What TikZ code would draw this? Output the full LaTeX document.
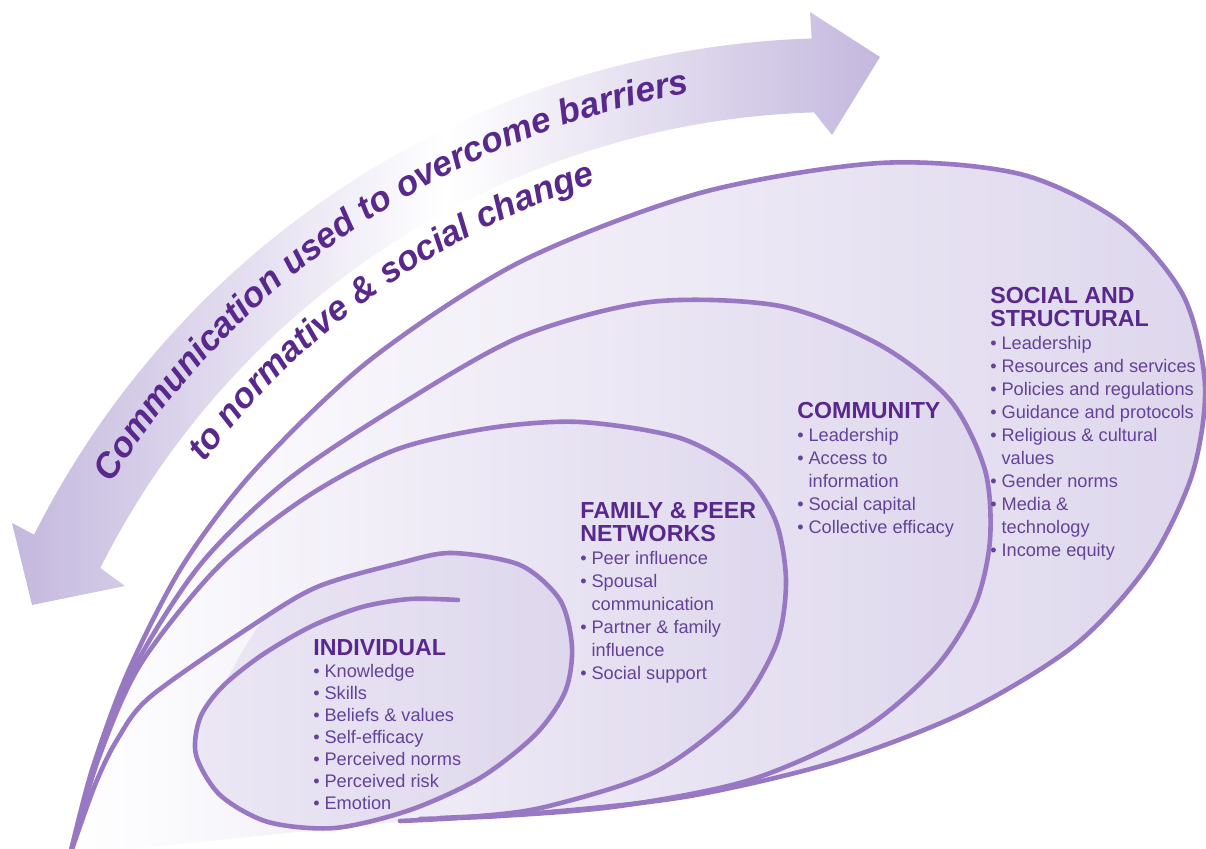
\documentclass[tikz,border=0pt]{standalone}
\usepackage{fontspec}
\setmainfont{Liberation Sans}
\usetikzlibrary{decorations.text}
\definecolor{linec}{RGB}{152,120,195}
\definecolor{loopc}{RGB}{222,215,237}
\definecolor{bandc}{RGB}{196,184,222}
\definecolor{headc}{RGB}{88,40,140}
\definecolor{bodyc}{RGB}{100,66,152}
\newcommand{\hd}[1]{{\fontsize{11.6}{11.5}\selectfont\bfseries\color{headc}#1}}
\newcommand{\itm}{\makebox[5.6pt][l]{\textbullet}}
\newcommand{\cnt}{\hspace*{5.6pt}}
\newcommand{\arcfont}{\fontsize{17.6}{20}\selectfont\bfseries\itshape}
\newcommand{\socialloop}{plot[smooth] coordinates {(70,855) (92,770) (128,672) (183,565) (255,470) (370,360) (520,262) (700,193) (880,163) (1020,174) (1120,222) (1183,295) (1205,385) (1192,475) (1148,565) (1075,645) (965,712) (835,762) (690,796) (550,812) (440,818)}}
\newcommand{\communityloop}{plot[smooth] coordinates {(70,855) (95,765) (134,668) (200,565) (285,482) (395,408) (520,337) (650,302) (780,306) (880,345) (950,400) (985,470) (990,540) (975,605) (935,668) (862,730) (750,780) (620,806) (500,816) (420,819)}}
\newcommand{\familyloop}{plot[smooth] coordinates {(70,855) (98,760) (140,665) (218,567) (305,498) (395,450) (490,428) (580,422) (680,438) (745,475) (776,522) (786,582) (776,645) (735,712) (655,772) (545,807) (470,817) (400,821)}}
\newcommand{\individualloop}{plot[smooth] coordinates {(70,855) (95,785) (117,740) (150,697) (250,627) (317,587) (400,563) (452,553) (520,565) (560,600) (572,647) (565,692) (535,735) (480,778) (410,810) (335,828) (268,822) (220,795) (196,755) (200,718) (222,687) (262,655) (312,626) (362,607) (410,599) (458,600)}}
\newcommand{\individualfill}{plot[smooth cycle] coordinates {(317,587) (400,563) (452,553) (520,565) (560,600) (572,647) (565,692) (535,735) (480,778) (410,810) (335,828) (268,822) (220,795) (196,755) (200,718) (222,687) (265,618)}}
\tikzset{
  loopline/.style={draw=linec, line width=2.3pt, line cap=round},
  loopfill/.style={left color=white, right color=loopc},
  block/.style={anchor=north west, inner sep=0pt, align=left, text=bodyc, font=\fontsize{9.1}{11.5}\selectfont},
}

\begin{document}
\begin{tikzpicture}[x=0.5pt, y=-0.5pt]
	\useasboundingbox (0,0) rectangle (1206,849);
	% double arrow
	\shade[left color=bandc, right color=bandc, middle color=white]
		(100.3,568.0) -- (125,586) -- (32,605) -- (12,523) -- (34.1,534.7)
		.. controls (182.8,239.0) and (480.9,48.9) .. (811.7,38.5)
		-- (810,12) -- (880,57) -- (832,135) -- (814.0,112.4)
		.. controls (510.3,121.9) and (236.8,296.5) .. (100.3,568.0) -- cycle;
	\path[decorate, decoration={text along path, text align=center, text color=headc,
		text={|\arcfont|Communication used to overcome barriers}}]
		(31.9,645.9) .. controls (159.3,295.8) and (497.6,67.5) .. (870.0,80.5);
	\path[decorate, decoration={text along path, text align=center, text color=headc,
		text={|\arcfont|to normative {\&} social change}}]
		(119.5,604.0) .. controls (237.4,351.1) and (479.3,178.6) .. (756.9,149.4);
	% loops
	\shade[loopfill] \socialloop;
	\shade[loopfill] \communityloop;
	\shade[loopfill] \familyloop;
	\shade[left color=white!40!loopc, right color=loopc] \individualfill;
	\draw[loopline] \socialloop;
	\draw[loopline] \communityloop;
	\draw[loopline] \familyloop;
	\draw[loopline] \individualloop;
	% texts
	\node[block] (social) at (990,287) {\hd{SOCIAL AND}\\\hd{STRUCTURAL}\\\itm Leadership\\\itm Resources and services\\\itm Policies and regulations\\\itm Guidance and protocols\\\itm Religious \& cultural\\\cnt values\\\itm Gender norms\\\itm Media \&\\\cnt technology\\\itm Income equity};
	\node[block] (community) at (797,402) {\hd{COMMUNITY}\\\itm Leadership\\\itm Access to\\\cnt information\\\itm Social capital\\\itm Collective efficacy};
	\node[block] (family) at (580,502) {\hd{FAMILY \& PEER}\\\hd{NETWORKS}\\\itm Peer influence\\\itm Spousal\\\cnt communication\\\itm Partner \& family\\\cnt influence\\\itm Social support};
	\node[block, font=\fontsize{9.1}{11}\selectfont] (individual) at (313,639) {\hd{INDIVIDUAL}\\\itm Knowledge\\\itm Skills\\\itm Beliefs \& values\\\itm Self-efficacy\\\itm Perceived norms\\\itm Perceived risk\\\itm Emotion};
\end{tikzpicture}
\end{document}
